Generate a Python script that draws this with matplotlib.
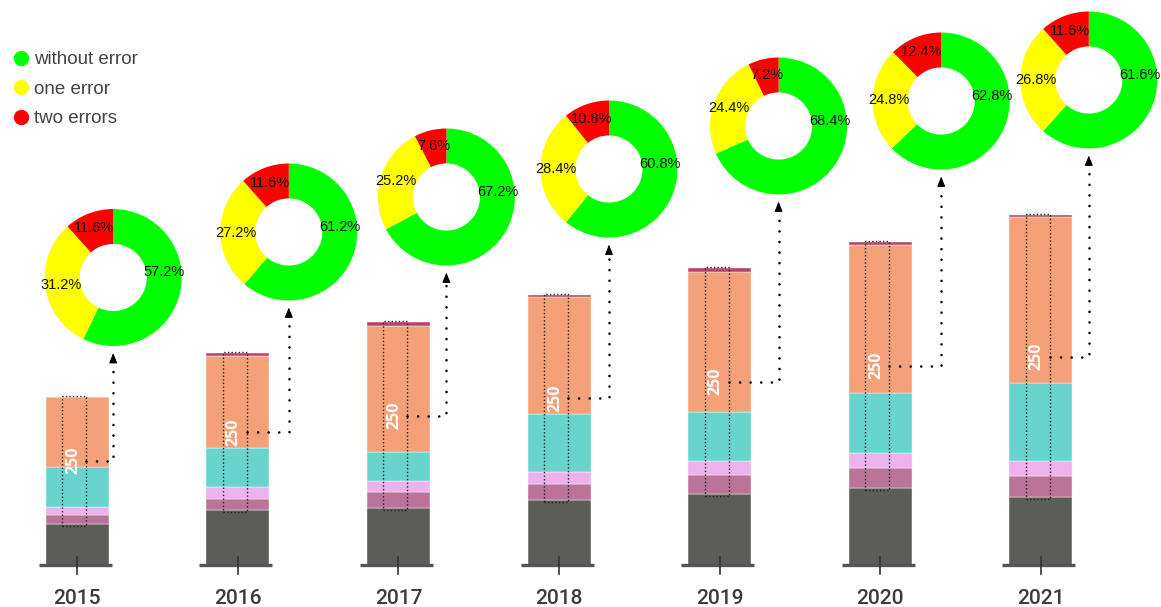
import numpy as np
import matplotlib.pyplot as plt
from matplotlib.lines import Line2D

plt.rcParams['font.family'] = ['Liberation Sans', 'DejaVu Sans']

years = ['2015', '2016', '2017', '2018', '2019', '2020', '2021']

# stacked segments, bottom to top
base   = [41, 55, 57, 65, 71, 77, 68]
mauve  = [9, 11, 16, 16, 19, 20, 21]
pink   = [8, 12, 11, 12, 14, 15, 15]
teal   = [40, 39, 29, 58, 49, 60, 78]
orange = [70, 92, 126, 117, 140, 148, 166]
cap    = [0.5, 3, 4, 2, 4, 3, 2]

range_label = ['250', '250', '250', '250', '250', '250', '250']

# donut shares, %
no_err  = [57.2, 61.2, 67.2, 60.8, 68.4, 62.8, 61.6]
one_err = [31.2, 27.2, 25.2, 28.4, 24.4, 24.8, 26.8]
two_err = [11.6, 11.6, 7.6, 10.8, 7.2, 12.4, 11.6]

seg_colors = ['#5c5d56', '#bb7499', '#edb1ed', '#69d3cd', '#f4a079', '#b5436f']
donut_colors = ['#00ff00', '#ffff00', '#ff0000']

# layout (pixels)
W, H = 1161, 607
PX = 160.6                 # pixels per year step
X0 = 559 - 3 * PX          # pixel x of first bar
BASE = 42                  # baseline height above bottom edge
BAR_W = 63 / PX
R = 68.5                   # donut radius
donut_dx   = [36, 51, 48, 50, 59, 61, 48]
donut_lift = [119, 121, 125, 126, 142, 141, 135]

fig = plt.figure(figsize=(W / 100, H / 100), dpi=100)
ax = fig.add_axes([0, 0, 1, 1])
ax.set_xlim(-X0 / PX, (W - X0) / PX)
ax.set_ylim(-BASE, H - BASE)
ax.axis('off')

x = np.arange(len(years))
segs = [base, mauve, pink, teal, orange, cap]
bottom = np.zeros(len(years))
for vals, col in zip(segs, seg_colors):
    ax.bar(x, vals, bottom=bottom, width=BAR_W, color=col,
           edgecolor='white', linewidth=0.3, zorder=2)
    bottom += np.array(vals)
totals = bottom

# baseline pieces + ticks + year labels
for i, yr in enumerate(years):
    ax.plot([i - BAR_W / 2 - 7 / PX, i + BAR_W / 2 + 3 / PX], [0, 0],
            color='#555555', lw=2.4, solid_capstyle='butt', zorder=3)
    ax.plot([i, i], [-9, 8], color='#333333', lw=1.2, zorder=4)
    ax.text(i, -33, yr, ha='center', va='center', fontsize=15,
            color='#3a3a3a', fontweight='medium',
            family=['Roboto', 'DejaVu Sans'])

for i in range(len(years)):
    lo = base[i] - 2
    hi = totals[i] + 1
    mid = (lo + hi) / 2
    xl, xr = i - 15 / PX, i + 9 / PX
    ax.plot([xl, xr, xr, xl, xl], [lo, lo, hi, hi, lo], color='#222222',
            lw=1.0, ls=(0, (1, 1.6)), zorder=5)
    ax.text((xl + xr) / 2 - 1 / PX, mid, range_label[i], rotation=90,
            ha='center', va='center', color='white', fontsize=11.5,
            fontweight='bold', family=['Open Sans', 'DejaVu Sans'], zorder=6)

    # connector from box to donut
    cx = i + donut_dx[i] / PX
    cy = totals[i] + donut_lift[i]
    tip = cy - R - 7
    ax.plot([xr, cx, cx], [mid, mid, tip - 6], color='black', lw=1.9,
            ls=(0, (0.01, 4)), dash_capstyle='round', zorder=5)
    ax.annotate('', xy=(cx, tip), xytext=(cx, tip - 6),
                arrowprops=dict(arrowstyle='-|>,head_length=0.6,head_width=0.24',
                                color='black', lw=0.8, shrinkA=0, shrinkB=0))

    # donut
    px, py = ax.transData.transform((cx, cy))
    l, b = fig.transFigure.inverted().transform((px - R, py - R))
    pax = fig.add_axes([l, b, 2 * R / W, 2 * R / H])
    wedges, texts, autotexts = pax.pie(
        [no_err[i], one_err[i], two_err[i]], colors=donut_colors,
        startangle=90, counterclock=False, autopct='%.1f%%',
        pctdistance=0.77, wedgeprops=dict(width=0.51, linewidth=0),
        textprops=dict(fontsize=10.5, color='#111111'))
    ang = np.deg2rad(6)
    autotexts[0].set_position((0.75 * np.cos(ang), 0.75 * np.sin(ang)))
    pax.set_xlim(-1, 1)
    pax.set_ylim(-1, 1)
    pax.set_aspect('equal')
    pax.axis('off')

handles = [Line2D([], [], marker='o', ls='', color=c, markersize=10)
           for c in donut_colors]
leg = ax.legend(handles, ['without error', 'one error', 'two errors'],
                loc='upper left', bbox_to_anchor=(12 / W, 1 - 51 / H),
                bbox_transform=fig.transFigure, frameon=False,
                borderaxespad=0, borderpad=0, handletextpad=0.15,
                handlelength=1.0, labelspacing=0.66, fontsize=13.5)
for t in leg.get_texts():
    t.set_color('#444444')

plt.savefig('out.png', dpi=100)
